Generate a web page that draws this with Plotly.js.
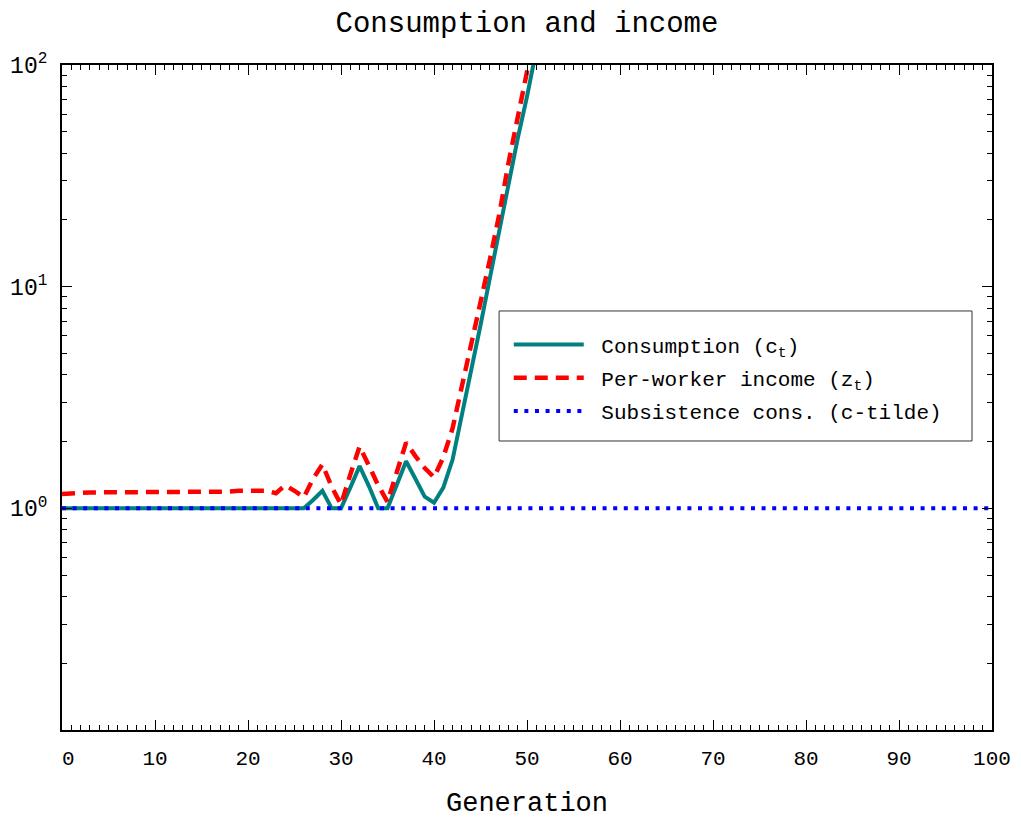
<!DOCTYPE html>
<html>
<head>
<meta charset="utf-8">
<script src="https://cdn.plot.ly/plotly-3.0.1.min.js"></script>
<style>html,body{margin:0;padding:0;background:#fff;}</style>
</head>
<body>
<div id="chart" style="width:1021px;height:820px;"></div>
<script>
// Generations simulated
const generation = [
  0, 1, 2, 3, 4, 5, 6, 7, 8, 9,
  10, 11, 12, 13, 14, 15, 16, 17, 18, 19,
  20, 21, 22, 23, 24, 25, 26, 27, 28, 29,
  30, 31, 32, 33, 34, 35, 36, 37, 38, 39,
  40, 41, 42, 43, 44, 45, 46, 47, 48, 49,
  50, 51
];

// Consumption per worker, c_t
const consumption = [
  1, 1, 1, 1, 1, 1, 1, 1, 1, 1,
  1, 1, 1, 1, 1, 1, 1, 1, 1, 1,
  1, 1, 1, 1, 1, 1, 1, 1.09, 1.20, 1.00,
  1.00, 1.24, 1.55, 1.26, 1.00, 1.00, 1.28, 1.63, 1.36, 1.13,
  1.06, 1.24, 1.66, 2.6, 4.2, 6.7, 10.9, 17.8, 29, 46.6,
  72, 117
];

// Income per worker, z_t
const income = [
  1.16, 1.17, 1.17, 1.18, 1.18, 1.18, 1.18, 1.18, 1.18, 1.18,
  1.18, 1.18, 1.18, 1.18, 1.19, 1.19, 1.19, 1.19, 1.19, 1.20,
  1.20, 1.20, 1.20, 1.17, 1.27, 1.20, 1.12, 1.36, 1.58, 1.25,
  1.04, 1.42, 1.90, 1.56, 1.27, 1.07, 1.44, 1.98, 1.72, 1.52,
  1.38, 1.70, 2.3, 3.5, 5.4, 8.5, 13.2, 21, 36, 58,
  93, 150
];

// Subsistence consumption level (c-tilde), constant over all generations
const subsistenceGen = [0, 100];
const subsistence = [1, 1];

// Axis ticks
const xTickVals = [0, 10, 20, 30, 40, 50, 60, 70, 80, 90, 100];
const xTickText = ['\u00a00', '10', '20', '30', '40', '50', '60', '70', '80', '90', '100'];
const yTickVals = [0.1, 1, 10, 100];
const yTickText = ['', '10<sup>0</sup>', '10<sup>1</sup>', '10<sup>2</sup>'];
const yMinorVals = [0.2, 0.3, 0.4, 0.5, 0.6, 0.7, 0.8, 0.9,
                    2, 3, 4, 5, 6, 7, 8, 9,
                    20, 30, 40, 50, 60, 70, 80, 90];

const FONT = '"Liberation Mono", "DejaVu Sans Mono", monospace';
const NBSP = '\u00a0';

const traces = [
  {
    x: generation, y: consumption, type: 'scatter', mode: 'lines',
    name: NBSP + 'Consumption (c<sub>t</sub>)', legendgroup: 'c',
    line: {color: '#008080', width: 4}
  },
  {
    x: generation, y: income, type: 'scatter', mode: 'lines',
    name: NBSP + 'Per-worker income (z<sub>t</sub>)', legendgroup: 'z',
    line: {color: '#ff0000', width: 4.5, dash: '13px,8px'}
  },
  {
    x: subsistenceGen, y: subsistence, type: 'scatter', mode: 'lines',
    name: NBSP + 'Subsistence cons. (c-tilde)', legendgroup: 's',
    line: {color: '#0000ff', width: 4, dash: '4px,6.6px'}
  }
];

const axisCommon = {
  showline: true, linewidth: 2, linecolor: '#000',
  mirror: 'allticks', showgrid: false, zeroline: false,
  ticks: 'inside', ticklen: 10, tickwidth: 1, tickcolor: '#000'
};

const layout = {
  width: 1021, height: 820,
  margin: {l: 62, r: 29, t: 65, b: 90},
  paper_bgcolor: '#fff', plot_bgcolor: '#fff',
  font: {family: FONT, color: '#000', size: 21},
  showlegend: true,
  title: {
    text: 'Consumption and income',
    font: {family: FONT, size: 29, color: '#000'},
    x: 0.5, xref: 'paper', xanchor: 'center',
    y: 1 - 22 / 820, yref: 'container', yanchor: 'middle'
  },
  xaxis: Object.assign({}, axisCommon, {
    range: [0, 100],
    tickmode: 'array', tickvals: xTickVals, ticktext: xTickText,
    tickfont: {family: FONT, size: 21, color: '#000'},
    ticklabelstandoff: 8,
    minor: {dtick: 1, ticks: 'inside', ticklen: 5, tickwidth: 1, tickcolor: '#000', showgrid: false},
    title: {text: 'Generation', font: {family: FONT, size: 27, color: '#000'}, standoff: 22}
  }),
  yaxis: Object.assign({}, axisCommon, {
    type: 'log', range: [-1, 2],
    tickmode: 'array', tickvals: yTickVals, ticktext: yTickText,
    tickfont: {family: FONT, size: 23, color: '#000'},
    ticklabelstandoff: 8,
    minor: {tickmode: 'array', tickvals: yMinorVals, ticks: 'inside', ticklen: 5, tickwidth: 1, tickcolor: '#000', showgrid: false}
  }),
  legend: {
    x: 0.4804, y: 0.61, xanchor: 'left', yanchor: 'top',
    bgcolor: 'rgba(0,0,0,0)', borderwidth: 0,
    font: {family: FONT, size: 21, color: '#000'},
    itemwidth: 70, tracegroupgap: 3
  },
  shapes: [{
    type: 'rect', xref: 'paper', yref: 'paper',
    x0: 0.47, x1: 0.9785, y0: 0.4346, y1: 0.6301,
    line: {color: '#333', width: 1}, fillcolor: '#fff', layer: 'below'
  }]
};

Plotly.newPlot('chart', traces, layout, {displayModeBar: false, staticPlot: true});
</script>
</body>
</html>
